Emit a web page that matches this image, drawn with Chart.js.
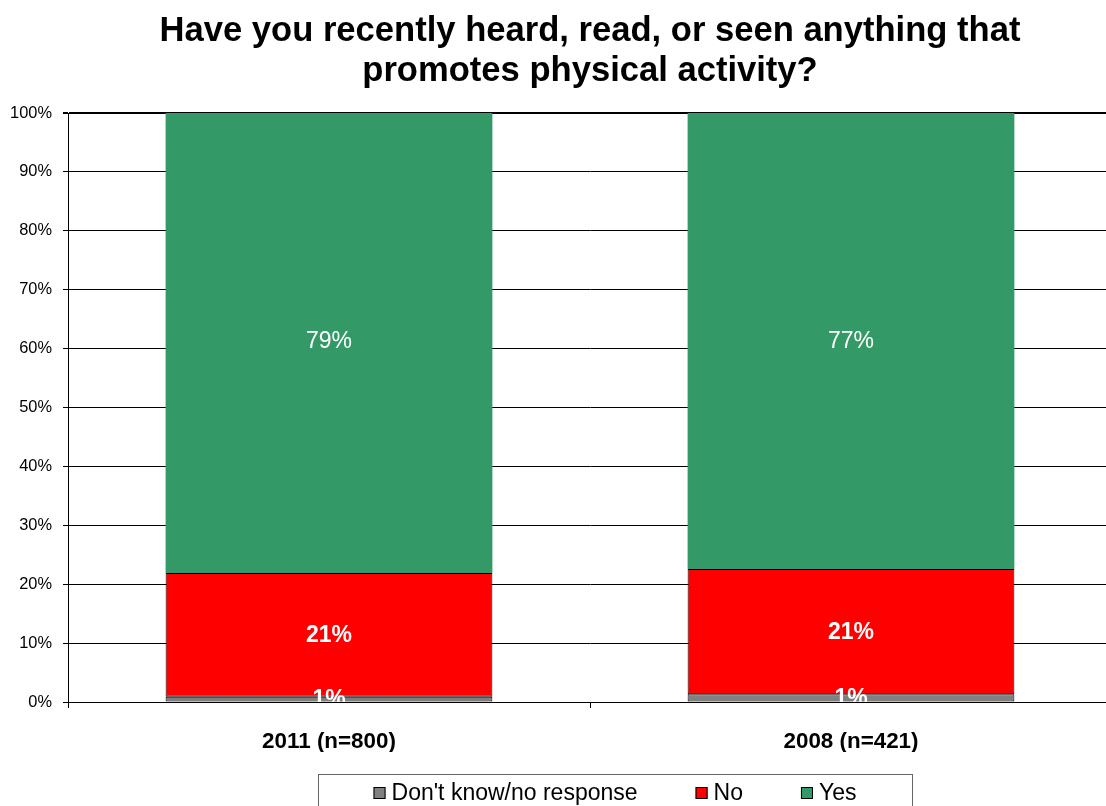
<!DOCTYPE html>
<html>
<head>
<meta charset="utf-8">
<title>Physical activity promotion</title>
<script src="https://cdn.jsdelivr.net/npm/chart.js@4.4.1/dist/chart.umd.min.js"></script>
<style>
  html, body { margin: 0; padding: 0; background: #fff; overflow: hidden; }
  canvas { display: block; }
</style>
</head>
<body>
<canvas id="c" width="1116" height="806"></canvas>
<script>
// ---- data ----
const years = ['2011 (n=800)', '2008 (n=421)'];
const dontKnow = [0.9, 1.3];
const noVals = [21.0, 21.3];
const yesVals = [79, 77.4];
const yTicks = [0, 10, 20, 30, 40, 50, 60, 70, 80, 90, 100];

const FONT = '"Liberation Sans", Arial, Helvetica, sans-serif';

// value labels drawn inside each segment, clipped to the plot
const segLabels = {
  id: 'segLabels',
  afterDatasetsDraw(chart) {
    const { ctx, chartArea: a } = chart;
    ctx.save();
    ctx.beginPath();
    ctx.rect(a.left, a.top, a.right - a.left, a.bottom - a.top);
    ctx.clip();
    ctx.fillStyle = '#fff';
    ctx.textAlign = 'center';
    ctx.textBaseline = 'middle';
    chart.data.datasets.forEach((ds, di) => {
      const meta = chart.getDatasetMeta(di);
      ctx.font = (ds.labelBold ? 'bold ' : '') + '23px ' + FONT;
      meta.data.forEach((el, i) => {
        const p = el.getCenterPoint();
        ctx.fillText(Math.round(ds.data[i]) + '%', p.x, p.y + 1);
      });
    });
    ctx.restore();
  }
};

// boxed legend under the axis
const boxLegend = {
  id: 'boxLegend',
  afterDraw(chart) {
    const { ctx } = chart;
    const left = 318, top = 774, right = 912;
    ctx.save();
    ctx.strokeStyle = '#666';
    ctx.lineWidth = 1;
    ctx.strokeRect(left + 0.5, top + 0.5, right - left, 60);
    ctx.font = '23px ' + FONT;
    ctx.textBaseline = 'middle';
    ctx.textAlign = 'left';
    const sq = 12, gap = 6, between = 58;
    const items = chart.data.datasets.map(ds => ({ label: ds.label, color: ds.backgroundColor }));
    let total = 0;
    items.forEach((it, i) => { total += sq + gap + ctx.measureText(it.label).width + (i < items.length - 1 ? between : 0); });
    let x = 615 - total / 2;
    const cy = 793;
    items.forEach(it => {
      ctx.fillStyle = it.color;
      ctx.fillRect(x, cy - 6, sq, sq);
      ctx.strokeStyle = '#000';
      ctx.strokeRect(x + 0.5, cy - 5.5, sq - 1, sq - 1);
      x += sq + gap;
      ctx.fillStyle = '#000';
      ctx.fillText(it.label, x, cy + 1);
      x += ctx.measureText(it.label).width + between;
    });
    ctx.restore();
  }
};

new Chart(document.getElementById('c'), {
  type: 'bar',
  data: {
    labels: years,
    datasets: [
      { label: "Don't know/no response", data: dontKnow, backgroundColor: '#808080',
        borderColor: '#000', borderWidth: 1, borderSkipped: false, labelBold: true },
      { label: 'No', data: noVals, backgroundColor: '#ff0000',
        borderColor: '#000', borderWidth: 1, borderSkipped: false, labelBold: true },
      { label: 'Yes', data: yesVals, backgroundColor: '#339966', borderWidth: 0, labelBold: false }
    ]
  },
  options: {
    responsive: false,
    animation: false,
    devicePixelRatio: 1,
    layout: { padding: { left: 0, right: 4, top: 0, bottom: 54 } },
    datasets: { bar: { categoryPercentage: 1, barPercentage: 0.626 } },
    plugins: {
      legend: { display: false },
      tooltip: { enabled: false },
      title: {
        display: true,
        fullSize: false,
        text: ['Have you recently heard, read, or seen anything that', 'promotes physical activity?'],
        color: '#000',
        font: { family: FONT, size: 34.6, weight: 'bold', lineHeight: 40 / 34.6 },
        padding: { top: 11, bottom: 22 }
      }
    },
    scales: {
      x: {
        stacked: true,
        grid: { drawOnChartArea: false, drawTicks: true, tickLength: 6, color: '#000', offset: true },
        border: { color: '#000', width: 1 },
        ticks: { color: '#000', font: { family: FONT, size: 22.4, weight: 'bold' }, padding: 20, maxRotation: 0 },
        afterFit: s => { s.height = 50; }
      },
      y: {
        stacked: true,
        min: 0, max: 100,
        afterBuildTicks: s => { s.ticks = yTicks.map(v => ({ value: v })); },
        grid: { color: '#000', lineWidth: c => (c.tick && c.tick.value === 100 ? 2 : 1), tickLength: 5 },
        border: { color: '#000', width: 1 },
        ticks: { color: '#000', font: { family: FONT, size: 16.4 }, padding: 11, callback: v => v + '%' },
        afterFit: s => { s.width = 68; }
      }
    }
  },
  plugins: [segLabels, boxLegend]
});
</script>
</body>
</html>
